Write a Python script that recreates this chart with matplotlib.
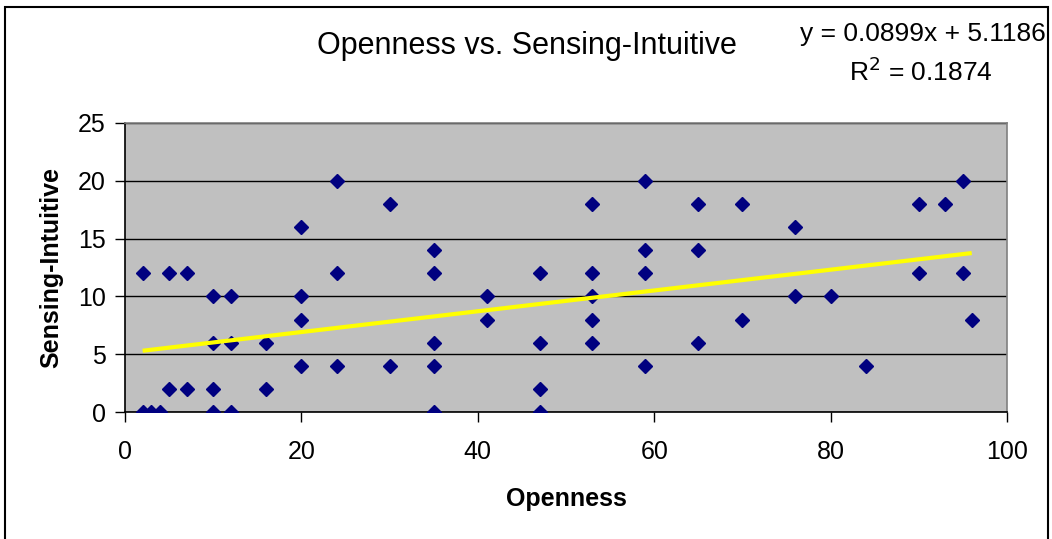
import numpy as np
import matplotlib.pyplot as plt
from matplotlib.patches import Rectangle

plt.rcParams["font.family"] = ["Liberation Sans", "DejaVu Sans"]

# Openness score and Sensing-Intuitive score for each respondent
openness = [2, 2, 3, 4, 5, 5, 7, 7,
            10, 10, 10, 10, 12, 12, 12, 16, 16,
            20, 20, 20, 20, 24, 24, 24, 30, 30,
            35, 35, 35, 35, 35, 41, 41, 47, 47, 47, 47,
            53, 53, 53, 53, 53, 59, 59, 59, 59, 65, 65, 65,
            70, 70, 76, 76, 80, 84, 90, 90, 93, 95, 95, 96]
sensing = [12, 0, 0, 0, 12, 2, 12, 2,
           10, 6, 2, 0, 10, 6, 0, 6, 2,
           16, 10, 8, 4, 20, 12, 4, 18, 4,
           14, 12, 6, 4, 0, 10, 8, 12, 6, 2, 0,
           18, 12, 10, 8, 6, 20, 14, 12, 4, 18, 14, 6,
           18, 8, 16, 10, 10, 4, 18, 12, 18, 20, 12, 8]

# trendline as printed on the chart
slope = 0.0899
intercept = 5.1186
r_squared = 0.1874

fig = plt.figure(figsize=(10.52, 5.39), dpi=100)
ax = fig.add_axes([125 / 1052, 1 - 412 / 539, 882 / 1052, 289 / 539])
ax.set_facecolor("#C0C0C0")

ax.plot(openness, sensing, linestyle="none", marker="D", markersize=7.2,
        color="#000080", zorder=3)

xfit = np.array([min(openness), max(openness)])
ax.plot(xfit, slope * xfit + intercept, color="#FFFF00", linewidth=3,
        solid_capstyle="butt", zorder=4)

ax.set_xlim(0, 100)
ax.set_ylim(0, 25)
ax.set_xticks(range(0, 101, 20))
ax.set_yticks(range(0, 26, 5))
ax.yaxis.grid(True, color="black", linewidth=1)
ax.set_axisbelow(True)
ax.tick_params(direction="out", length=7, width=1, labelsize=18,
               color="black")
ax.tick_params(axis="x", pad=13)
ax.tick_params(axis="y", pad=7)

for side in ("top", "right"):
    ax.spines[side].set_color("#808080")
for side in ("left", "bottom"):
    ax.spines[side].set_color("black")
for sp in ax.spines.values():
    sp.set_linewidth(1.2)

ax.set_xlabel("Openness", fontsize=18, fontweight="bold", labelpad=17)
ax.set_ylabel("Sensing-Intuitive", fontsize=18, fontweight="bold", labelpad=10)

fig.text(527 / 1052, 1 - 46 / 539, "Openness vs. Sensing-Intuitive",
         fontsize=22, ha="center", va="center")
fig.text(1046 / 1052, 1 - 34 / 539, f"y = {slope}x + {intercept}",
         fontsize=19, ha="right", va="center")
fig.text(921 / 1052, 1 - 72 / 539, f"R$^2$ = {r_squared}",
         fontsize=19, ha="center", va="center")

# chart frame
fig.patches.append(Rectangle((5 / 1052, -0.05), 1043 / 1052, 1.05 - 7 / 539,
                             transform=fig.transFigure, fill=False,
                             edgecolor="black", linewidth=1.5))

fig.savefig("out.png", dpi=100)
